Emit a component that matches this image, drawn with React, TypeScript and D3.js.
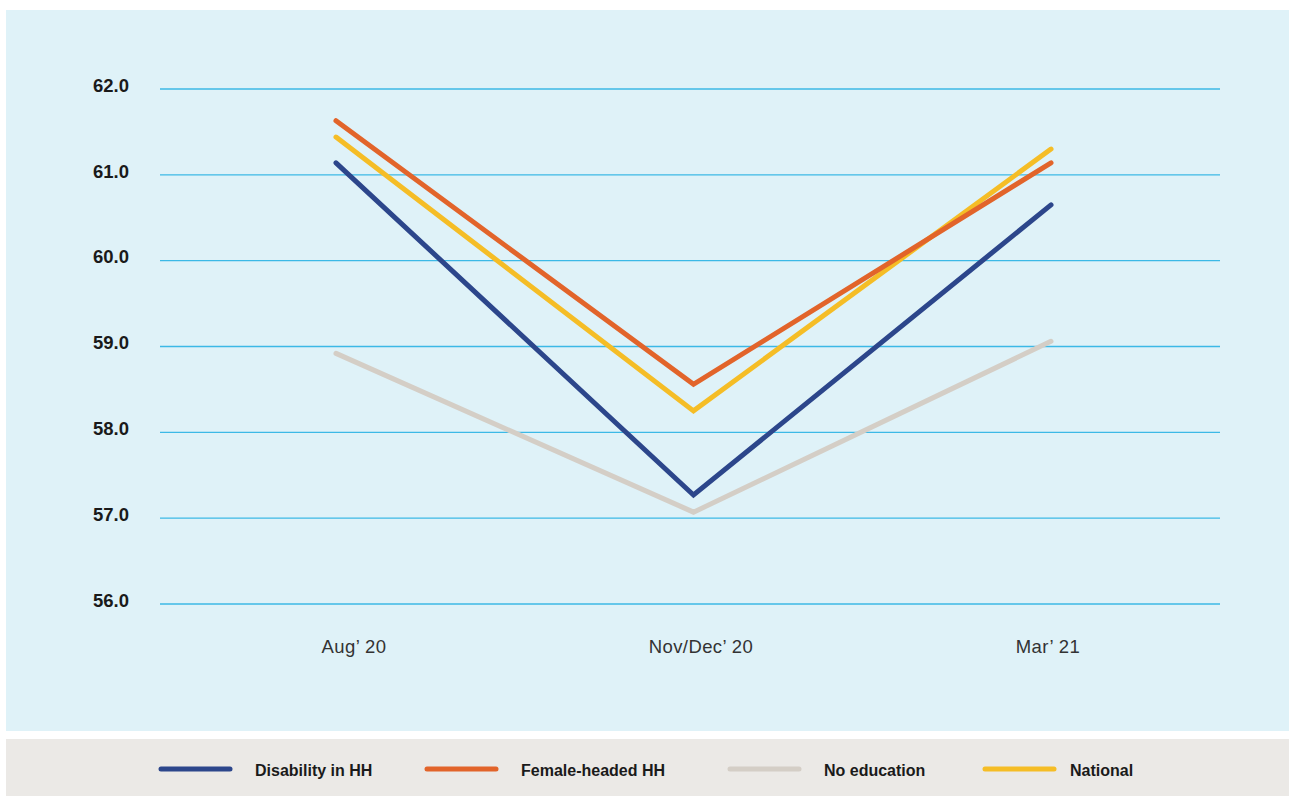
import React from "react";
import * as d3 from "d3";

const categories = ["Aug’ 20", "Nov/Dec’ 20", "Mar’ 21"];
const yTicks = [56, 57, 58, 59, 60, 61, 62];
const disability = [61.14, 57.27, 60.65];
const femaleHeaded = [61.63, 58.56, 61.14];
const noEducation = [58.92, 57.07, 59.06];
const national = [61.44, 58.25, 61.3];

const seriesNames = ["Disability in HH", "Female-headed HH", "No education", "National"];
const seriesColors = ["#2c468b", "#e2642a", "#d4cec6", "#f5bd26"];
const seriesValues = [disability, femaleHeaded, noEducation, national];
// drawing order: No education, Disability, National, Female
const drawOrder = [2, 0, 3, 1];

const W = 1289;
const H = 796;

export default function App() {
  const y = d3.scaleLinear().domain([56, 62]).range([604, 89]);
  const xLine = d3.scalePoint<string>().domain(categories).range([336, 1051]);
  const xLabel = d3.scalePoint<string>().domain(categories).range([354, 1048]);
  const line = d3
    .line<number>()
    .x((_, i) => xLine(categories[i]) as number)
    .y((d) => y(d));

  const legendLineX = [161, 427, 730, 985];
  const legendTextX = [255, 521, 824, 1070];

  return (
    <svg
      width={W}
      height={H}
      style={{ position: "absolute", left: 0, top: 0, display: "block" }}
      fontFamily="'Liberation Sans', Arial, sans-serif"
    >
      <rect x={0} y={0} width={W} height={H} fill="#ffffff" />
      <rect x={6} y={10} width={W - 6} height={721} fill="#dff2f8" />
      <rect x={6} y={739} width={W - 6} height={57} fill="#ebe9e6" />

      {yTicks.map((t) => (
        <g key={t}>
          <line x1={160} x2={1220} y1={y(t)} y2={y(t)} stroke="#3cb9e6" strokeWidth={1.3} />
          <text
            x={129}
            y={y(t) + 2.7}
            textAnchor="end"
            fontSize={18.5}
            fontWeight="bold"
            fill="#1a1a1a"
          >
            {t.toFixed(1)}
          </text>
        </g>
      ))}

      {categories.map((c) => (
        <text
          key={c}
          x={xLabel(c) as number}
          y={653.3}
          textAnchor="middle"
          fontSize={18.5}
          letterSpacing={0.4}
          fill="#333333"
        >
          {c}
        </text>
      ))}

      {drawOrder.map((i) => (
        <path
          key={seriesNames[i]}
          d={line(seriesValues[i]) as string}
          fill="none"
          stroke={seriesColors[i]}
          strokeWidth={5}
          strokeLinecap="round"
          strokeLinejoin="miter"
        />
      ))}

      {seriesNames.map((n, i) => (
        <g key={n}>
          <line
            x1={legendLineX[i]}
            x2={legendLineX[i] + 69}
            y1={769}
            y2={769}
            stroke={seriesColors[i]}
            strokeWidth={5}
            strokeLinecap="round"
          />
          <text x={legendTextX[i]} y={776} fontSize={16} fontWeight="bold" fill="#1a1a1a">
            {n}
          </text>
        </g>
      ))}
    </svg>
  );
}
